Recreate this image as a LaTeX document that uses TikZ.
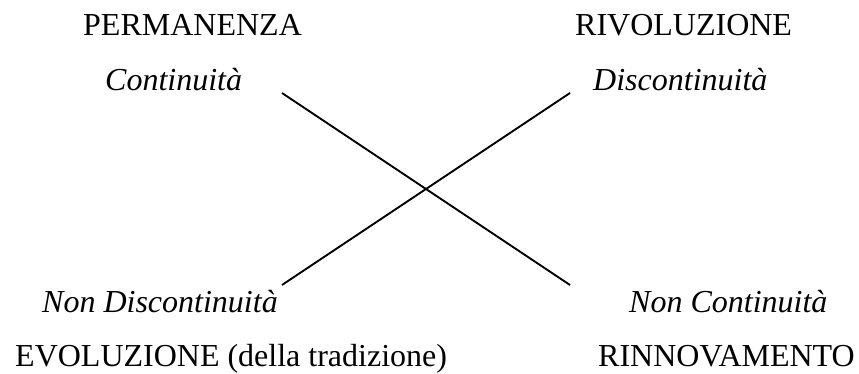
\documentclass[tikz,border=0pt]{standalone}
\usepackage{fontspec}
\setmainfont{Liberation Serif}
\usepackage{tikz}
\newcommand{\word}[4]{\node[lbl] (#1) at (#2,#3) {#4};}
\tikzset{
  lbl/.style={anchor=base west, inner sep=0pt, font=\fontsize{32}{36}\selectfont},
  cross/.style={line width=1.9pt}
}

\begin{document}
\begin{tikzpicture}[x=1pt,y=-1pt]
\useasboundingbox (0,0) rectangle (859,374);
\word{perm}{83}{36}{PERMANENZA}
\word{cont}{105}{91}{\itshape Continuità}
\word{rivo}{575}{36}{RIVOLUZIONE}
\word{disc}{593}{91}{\itshape Discontinuità}
\word{nondisc}{42}{312}{\itshape Non Discontinuità}
\word{evol}{15}{366}{EVOLUZIONE (della tradizione)}
\word{noncont}{629}{312}{\itshape Non Continuità}
\word{rinn}{598}{366}{RINNOVAMENTO}
\coordinate (tl) at (282,93);
\coordinate (tr) at (570,93);
\coordinate (bl) at (282,285);
\coordinate (br) at (570,285);
\draw[cross] (tl)--(br);
\draw[cross] (bl)--(tr);
\end{tikzpicture}
\end{document}
